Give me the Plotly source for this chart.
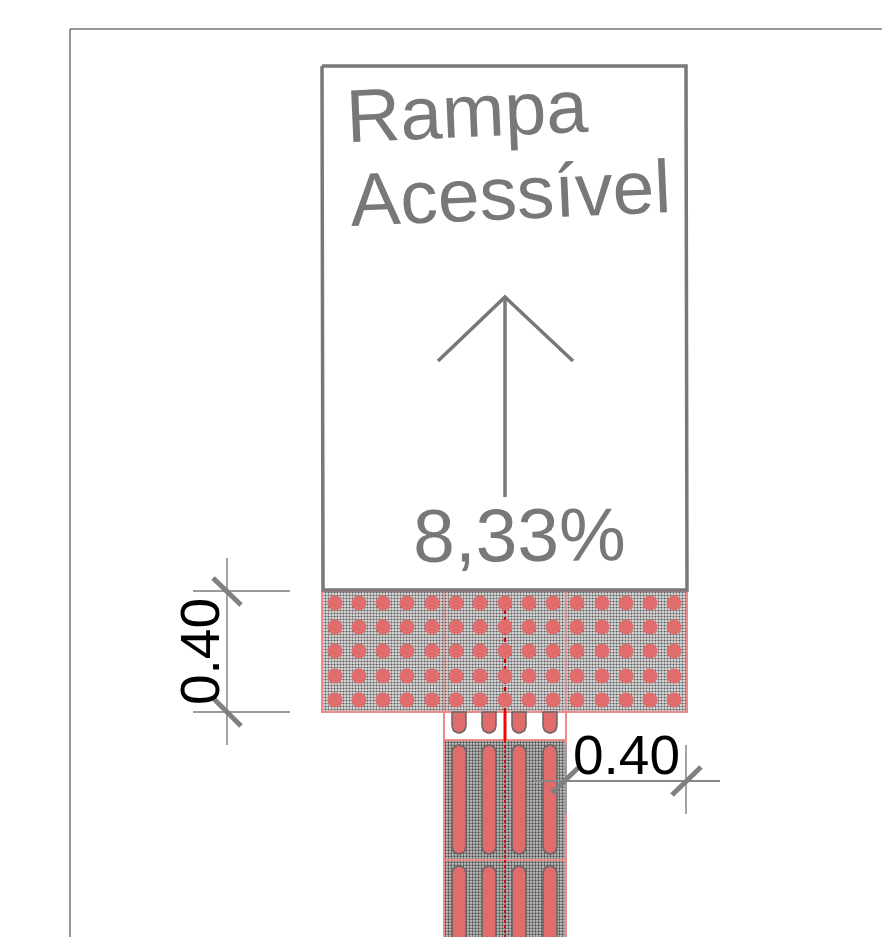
import numpy as np
import plotly.graph_objects as go

# Drawing data, read in reference pixels
frame_x = [70, 70, 882]
frame_y = [937, 29, 29]
box_x = [322, 686, 687, 323, 322]
box_y = [66, 66, 590, 590, 66]
shaft_x = [505, 505]
shaft_y = [297, 497]
head_x = [438, 505, 573]
head_y = [361, 297, 361]

top_panel_x = [322, 687, 687, 322, 322]
top_panel_y = [591, 591, 712, 712, 591]
top_div_x = [444, 566]
top_div_y = [591, 712]
dot_x = [335, 359, 383, 407, 432, 456, 480, 505, 529, 553, 577, 602, 626, 650, 674]
dot_y = [603, 627, 651, 676, 700]

low_panel_x = [444, 566, 566, 444, 444]
low_panel_y = [740, 740, 950, 950, 740]
strip_x = [444, 444, 566, 566]
strip_y = [712, 740, 740, 712]
low_div_x = [444, 566]
low_div_y = [860, 860]
groove_x = [459, 489, 519, 550]
stub_y = [712, 733]
groove1_y = [745, 854]
groove2_y = [866, 990]

center_x = 505
center_solid_y = [712, 740]
center_dash_top_y = [596, 712]
center_dash_low_y = [740, 937]

dim_left_h_y = [591, 712]
dim_left_h_x = [193, 290]
dim_left_v_x = [227, 227]
dim_left_v_y = [558, 745]
tick_left_1 = ([213, 241], [578, 605])
tick_left_2 = ([213, 241], [698, 726])
dim_right_h_x = [533, 720]
dim_right_h_y = [781, 781]
dim_right_v_xs = [566, 686]
dim_right_v_y = [745, 814]
tick_right_1 = ([552, 578], [793, 768])
tick_right_2 = ([672, 701], [795, 767])

labels = ["Rampa", "Acessível", "8,33%", "0.40", "0.40"]

GREY = "#787878"
PINK = "#ef8a8a"
DOT = "#e06c6c"
DIM = "#9a9a9a"
TICK = "#808080"
FONT = "Liberation Sans"

fig = go.Figure()


def line(x, y, color, width, dash=None):
    fig.add_trace(go.Scatter(x=x, y=y, mode="lines", hoverinfo="skip",
                             line=dict(color=color, width=width, dash=dash)))


def panel(x, y, fg, bg, size, solidity):
    fig.add_trace(go.Scatter(x=x, y=y, mode="lines", fill="toself", hoverinfo="skip",
                             line=dict(color=PINK, width=2),
                             fillcolor=bg,
                             fillpattern=dict(shape=".", size=size, solidity=solidity,
                                              fgcolor=fg, bgcolor=bg, fillmode="replace")))


def groove(cx, y0, y1, top_round=True, half=7):
    t = np.linspace(0, np.pi, 12)
    xs, ys = [], []
    if top_round:
        xs += list(cx - half * np.cos(t))
        ys += list(y0 + half - half * np.sin(t))
    else:
        xs += [cx - half, cx + half]
        ys += [y0, y0]
    xs += list(cx + half * np.cos(t))
    ys += list(y1 - half + half * np.sin(t))
    xs.append(xs[0])
    ys.append(ys[0])
    fig.add_trace(go.Scatter(x=xs, y=ys, mode="lines", fill="toself", fillcolor=DOT,
                             hoverinfo="skip", line=dict(color="#666666", width=1.5)))


line(frame_x, frame_y, "#333333", 1)

panel(top_panel_x, top_panel_y, "#5a5a5a", "#dcdcdc", 3, 0.4)
panel(low_panel_x, low_panel_y, "#4a4a4a", "#c8c8c8", 3, 0.45)
line(strip_x, strip_y, PINK, 2)
for dx in top_div_x:
    line([dx, dx], top_div_y, PINK, 1.5)
line(low_div_x, low_div_y, PINK, 2)

for gx in groove_x:
    groove(gx, stub_y[0], stub_y[1], top_round=False)
    groove(gx, groove1_y[0], groove1_y[1])
    groove(gx, groove2_y[0], groove2_y[1])

line([center_x, center_x], center_dash_top_y, "#dd0000", 2.5, "4px,3px")
line([center_x, center_x], center_dash_low_y, "#cc1010", 2, "3px,2px")
line([center_x, center_x], center_solid_y, "#ff0000", 3)

gx, gy = np.meshgrid(dot_x, dot_y)
fig.add_trace(go.Scatter(x=gx.ravel(), y=gy.ravel(), mode="markers", hoverinfo="skip",
                         marker=dict(size=15, color=DOT, line=dict(width=0))))

line(box_x, box_y, GREY, 3.5)
line(shaft_x, shaft_y, GREY, 3.5)
line(head_x, head_y, GREY, 3.5)

for hy in dim_left_h_y:
    line(dim_left_h_x, [hy, hy], DIM, 1.8)
line(dim_left_v_x, dim_left_v_y, DIM, 1.8)
line(dim_right_h_x, dim_right_h_y, "#888888", 1.8)
for vx in dim_right_v_xs:
    line([vx, vx], dim_right_v_y, DIM, 1.8)
for t in (tick_left_1, tick_left_2, tick_right_1, tick_right_2):
    line(t[0], t[1], TICK, 5)

annots = [
    dict(x=467, y=111, text=labels[0], textangle=-2.5, size=75, color=GREY),
    dict(x=510, y=193, text=labels[1], textangle=-2.5, size=75, color=GREY),
    dict(x=519, y=535, text=labels[2], textangle=-0.5, size=75, color=GREY),
    dict(x=626, y=755, text=labels[3], textangle=0, size=55, color="#000000"),
    dict(x=200, y=652, text=labels[4], textangle=-90, size=55, color="#000000"),
]
for a in annots:
    fig.add_annotation(x=a["x"], y=a["y"], text=a["text"], textangle=a["textangle"],
                       showarrow=False, borderpad=0, xanchor="center", yanchor="middle",
                       font=dict(family=FONT, size=a["size"], color=a["color"]))

fig.update_layout(
    width=882, height=937, margin=dict(l=0, r=0, t=0, b=0),
    paper_bgcolor="white", plot_bgcolor="white", showlegend=False,
    xaxis=dict(range=[0, 882], visible=False, fixedrange=True),
    yaxis=dict(range=[937, 0], visible=False, fixedrange=True),
)
fig.write_html("out.html", config=dict(displayModeBar=False),
               post_script="document.body.style.margin='0';document.body.style.overflow='hidden';")
